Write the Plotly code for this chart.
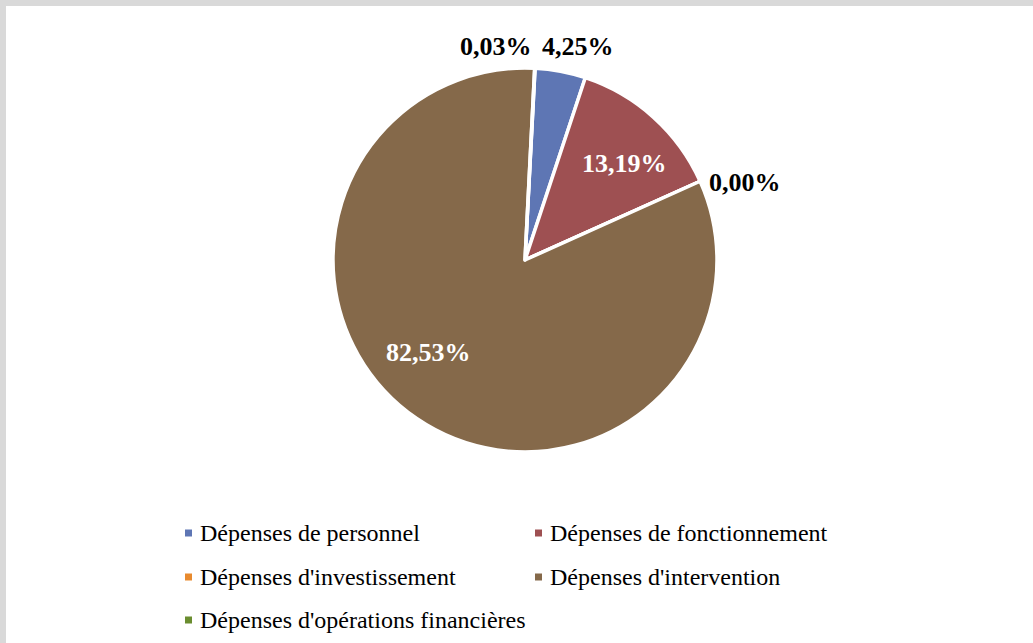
import plotly.graph_objects as go

# Budget breakdown by expense type (share of total, %)
categories = [
    "Dépenses de personnel",
    "Dépenses de fonctionnement",
    "Dépenses d'investissement",
    "Dépenses d'intervention",
    "Dépenses d'opérations financières",
]
shares = [4.25, 13.19, 0.00, 82.53, 0.03]
colors = ["#5E76B4", "#9E5052", "#E88A2E", "#85694A", "#6A8D2F"]

labels_fr = [f"{v:.2f}%".replace(".", ",") for v in shares]

W, H = 1033, 643
cx, cy, r = 525, 260, 192

# data-label placement (pixel centre, text colour) for each slice
label_pos = [(578, 47), (624, 163), (745, 183), (428, 352), (496, 47)]
label_col = ["black", "white", "black", "white", "black"]

fig = go.Figure()
fig.add_trace(go.Pie(
    labels=categories,
    values=shares,
    textinfo="none",
    sort=False,
    direction="clockwise",
    rotation=3,
    marker=dict(colors=colors, line=dict(color="white", width=3.5)),
    domain=dict(x=[(cx - r) / W, (cx + r) / W], y=[1 - (cy + r) / H, 1 - (cy - r) / H]),
    showlegend=False,
    hoverinfo="label+percent",
))

shapes = [
    # grey frame along the top and left edges
    dict(type="rect", xref="paper", yref="paper", x0=0, x1=1, y0=1 - 6 / H, y1=1,
         fillcolor="#D9D9D9", line=dict(width=0), layer="below"),
    dict(type="rect", xref="paper", yref="paper", x0=0, x1=6 / W, y0=0, y1=1,
         fillcolor="#D9D9D9", line=dict(width=0), layer="below"),
]
annotations = []

# percentage labels
for txt, (px, py), col in zip(labels_fr, label_pos, label_col):
    annotations.append(dict(
        text=txt, xref="paper", yref="paper", x=px / W, y=1 - py / H,
        xanchor="center", yanchor="middle", showarrow=False,
        font=dict(family="Liberation Serif", size=26, color=col, weight="bold"),
    ))

# legend: two columns of small colour squares with labels
col_x = [198, 548]
row_y = [533, 577, 620]
for i, (name, col) in enumerate(zip(categories, colors)):
    tx = col_x[i % 2]
    ty = row_y[i // 2]
    shapes.append(dict(
        type="rect", xref="paper", yref="paper",
        x0=(tx - 13) / W, x1=(tx - 6) / W,
        y0=1 - (ty + 3.5) / H, y1=1 - (ty - 3.5) / H,
        fillcolor=col, line=dict(width=0),
    ))
    annotations.append(dict(
        text=name, xref="paper", yref="paper", x=tx / W, y=1 - ty / H,
        xanchor="left", yanchor="middle", showarrow=False,
        font=dict(family="Liberation Serif", size=24, color="black"),
    ))

fig.update_layout(
    width=W, height=H,
    margin=dict(l=0, r=0, t=0, b=0),
    paper_bgcolor="white",
    plot_bgcolor="white",
    shapes=shapes,
    annotations=annotations,
)

fig.write_html("out.html")
